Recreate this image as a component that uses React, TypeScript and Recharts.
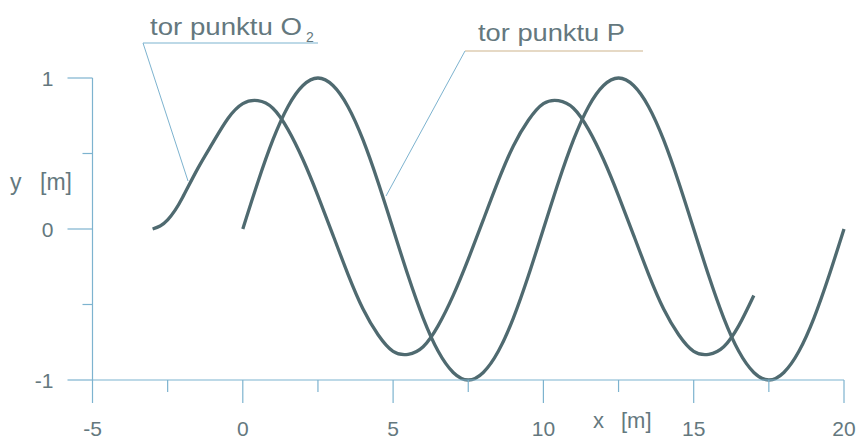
import { LineChart, Line, XAxis, YAxis } from 'recharts';

// trajectory of point O2 (x in m, y in m)
const o2X = [-3, -2.75, -2.5, -2.25, -2, -1.5, -1, -0.5, 0, 0.5, 1, 1.5, 2, 2.5, 3, 3.5, 4, 4.5, 5, 5.5, 6, 6.5, 7, 7.5, 8, 8.5, 9, 9.5, 10, 10.5, 11, 11.5, 12, 12.5, 13, 13.5, 14, 14.5, 15, 15.5, 16, 16.5, 17];
const o2Y = [0, 0.02, 0.06, 0.125, 0.21, 0.4, 0.57, 0.73, 0.83, 0.85, 0.8, 0.66, 0.46, 0.22, -0.04, -0.3, -0.53, -0.7, -0.81, -0.83, -0.78, -0.64, -0.44, -0.2, 0.06, 0.32, 0.55, 0.72, 0.83, 0.85, 0.8, 0.66, 0.46, 0.22, -0.04, -0.3, -0.53, -0.7, -0.81, -0.83, -0.78, -0.64, -0.44];

// trajectory of point P
const pX = [0, 0.5, 1, 1.5, 2, 2.5, 3, 3.5, 4, 4.5, 5, 5.5, 6, 6.5, 7, 7.5, 8, 8.5, 9, 9.5, 10, 10.5, 11, 11.5, 12, 12.5, 13, 13.5, 14, 14.5, 15, 15.5, 16, 16.5, 17, 17.5, 18, 18.5, 19, 19.5, 20];
const pY = [0, 0.31, 0.59, 0.81, 0.95, 1, 0.95, 0.81, 0.59, 0.31, 0, -0.31, -0.59, -0.81, -0.95, -1, -0.95, -0.81, -0.59, -0.31, 0, 0.31, 0.59, 0.81, 0.95, 1, 0.95, 0.81, 0.59, 0.31, 0, -0.31, -0.59, -0.81, -0.95, -1, -0.95, -0.81, -0.59, -0.31, 0];

const xTicks = [-5, -2.5, 0, 2.5, 5, 7.5, 10, 12.5, 15, 17.5, 20];
const yTicks = [-1, -0.5, 0, 0.5, 1];

const o2Data = o2X.map((x, i) => ({ x, y: o2Y[i] }));
const pData = pX.map((x, i) => ({ x, y: pY[i] }));

const FONT = '"Liberation Sans", Arial, sans-serif';
const TEXT = '#64787e';
const AXIS = '#7db3cf';
const CURVE = '#4f6a70';

function XTick(props: any) {
    const { x, y, payload } = props;
    const major = payload.value % 5 === 0;
    return (
        <g>
            <line x1={x} x2={x} y1={y} y2={y + (major ? 23 : 12)} stroke={AXIS} strokeWidth={1.2} />
            {major && (
                <text x={x} y={y + 56} textAnchor="middle" fontSize={21} fill={TEXT} fontFamily={FONT}>
                    {payload.value}
                </text>
            )}
        </g>
    );
}

function YTick(props: any) {
    const { x, y, payload } = props;
    const major = payload.value % 1 === 0;
    return (
        <g>
            <line x1={x - (major ? 25 : 10)} x2={x} y1={y} y2={y} stroke={AXIS} strokeWidth={1.2} />
            {major && (
                <text x={x - 39} y={y + 7.5} textAnchor="end" fontSize={21} fill={TEXT} fontFamily={FONT}>
                    {payload.value}
                </text>
            )}
        </g>
    );
}

export default function App() {
    return (
        <div style={{ position: 'absolute', left: 0, top: 0, width: 859, height: 441, background: '#fff' }}>
            <LineChart width={859} height={441} margin={{ top: 78, right: 15, left: 32.5, bottom: 31 }}>
                <XAxis
                    type="number"
                    dataKey="x"
                    domain={[-5, 20]}
                    ticks={xTicks}
                    tick={<XTick />}
                    tickLine={false}
                    tickSize={0}
                    tickMargin={0}
                    interval={0}
                    axisLine={{ stroke: AXIS, strokeWidth: 1.2 }}
                />
                <YAxis
                    type="number"
                    dataKey="y"
                    domain={[-1, 1]}
                    ticks={yTicks}
                    tick={<YTick />}
                    tickLine={false}
                    tickSize={0}
                    tickMargin={0}
                    interval={0}
                    axisLine={{ stroke: AXIS, strokeWidth: 1.2 }}
                />
                <Line data={o2Data} dataKey="y" type="natural" stroke={CURVE} strokeWidth={3.3} dot={false} isAnimationActive={false} />
                <Line data={pData} dataKey="y" type="natural" stroke={CURVE} strokeWidth={3.3} dot={false} isAnimationActive={false} />
            </LineChart>

            {/* annotations and axis titles */}
            <svg width={859} height={441} style={{ position: 'absolute', left: 0, top: 0, pointerEvents: 'none' }}>
                <text x={150} y={35} fontSize={23} fill={TEXT} fontFamily={FONT} textLength={152} lengthAdjust="spacingAndGlyphs">tor punktu O</text>
                <text x={306} y={42} fontSize={14} fill={TEXT} fontFamily={FONT}>2</text>
                <line x1={143} y1={43} x2={318} y2={43} stroke={AXIS} strokeWidth={1.2} />
                <line x1={143} y1={43} x2={188} y2={181} stroke={AXIS} strokeWidth={1} />

                <text x={478} y={41} fontSize={24} fill={TEXT} fontFamily={FONT} textLength={147} lengthAdjust="spacingAndGlyphs">tor punktu P</text>
                <line x1={465} y1={51} x2={643} y2={51} stroke="#cdb48c" strokeWidth={1.2} />
                <line x1={465} y1={51} x2={386} y2={196} stroke={AXIS} strokeWidth={1} />

                <text y={190} fontSize={23} fill={TEXT} fontFamily={FONT}>
                    <tspan x={10}>y</tspan>
                    <tspan x={40}>[m]</tspan>
                </text>
                <text y={428} fontSize={22} fill={TEXT} fontFamily={FONT}>
                    <tspan x={593}>x</tspan>
                    <tspan x={621}>[m]</tspan>
                </text>
            </svg>
        </div>
    );
}
